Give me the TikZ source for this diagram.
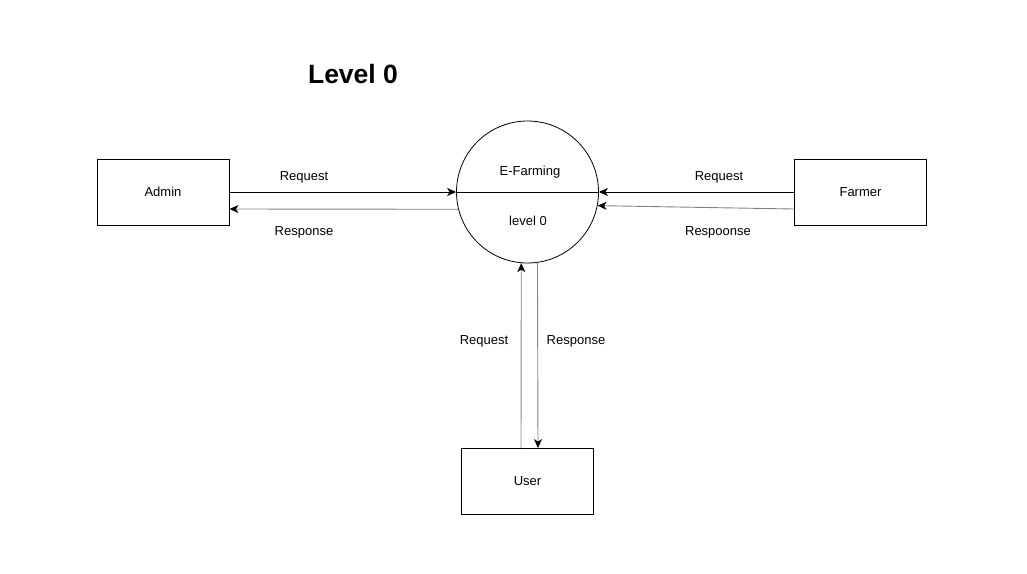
\documentclass[tikz,border=0pt]{standalone}
\usepackage{fontspec}
\setmainfont{Liberation Sans}
\usetikzlibrary{arrows.meta}
\definecolor{linegray}{RGB}{130,130,130}

\begin{document}
\begin{tikzpicture}[x=1pt, y=-1pt,
        entity/.style={draw, line width=0.9pt, minimum width=132pt, minimum height=66pt, inner sep=0pt, font=\fontsize{13}{15}\selectfont},
        process/.style={draw, circle, line width=0.8pt, minimum size=142pt, inner sep=0pt},
        flow/.style={line width=0.9pt, -{Stealth[length=9pt, width=8pt, inset=2.5pt, black]}},
        label/.style={font=\fontsize{13}{15}\selectfont}]
    \useasboundingbox (0, 0) rectangle (1027, 573);
    % Title
    \node[font=\fontsize{26.5}{30}\selectfont\bfseries] (title) at (353, 74) {Level 0};
    % External entities
    \node[entity] (admin) at (163, 192) {Admin};
    \node[entity] (farmer) at (860.5, 192) {Farmer};
    \node[entity] (user) at (527.5, 481.5) {User};
    % Process
    \node[process] (efarm) at (527.5, 192) {};
    \draw[line width=0.9pt] (efarm.west) -- (efarm.east);
    \node[label] (efarmtop) at (530, 172) {E-Farming};
    \node[label] (efarmbot) at (528, 221) {level 0};
    % Admin flows
    \draw[flow] (admin.east) -- (efarm.west);
    \draw[flow, linegray] (efarm.194) -- ([yshift=-17pt]admin.east);
    \node[label] (adminreq) at (304, 177) {Request};
    \node[label] (adminres) at (304, 232) {Response};
    % Farmer flows
    \draw[flow] (farmer.west) -- (efarm.east);
    \draw[flow, linegray] ([yshift=-17pt]farmer.west) -- (efarm.-11);
    \node[label] (farmerreq) at (719, 177) {Request};
    \node[label] (farmerres) at (718, 232) {Respoonse};
    % User flows
    \draw[flow, linegray] ([xshift=-6.5pt]user.north) -- (efarm.265);
    \draw[flow, linegray] (efarm.278) -- ([xshift=10.5pt]user.north);
    \node[label] (userreq) at (484, 341) {Request};
    \node[label] (userres) at (576, 341) {Response};
\end{tikzpicture}
\end{document}
